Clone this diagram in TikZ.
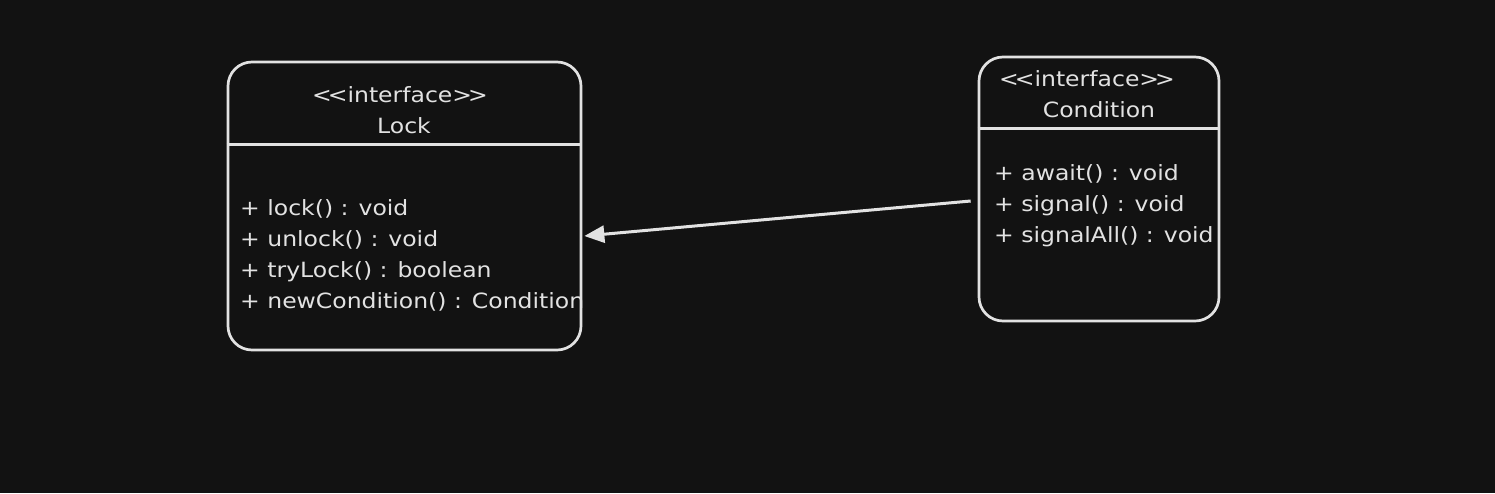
\documentclass[tikz,border=0pt]{standalone}
\usepackage{fontspec}
\setmainfont{DejaVu Sans}[FakeStretch=1.12,Ligatures=NoCommon]
\usetikzlibrary{arrows.meta,calc}
\definecolor{bg}{HTML}{121212}
\definecolor{ink}{HTML}{E2E2E2}
\newcommand{\stereo}{<\kern-4pt<interface>\kern-4pt>}
\begin{document}
\begin{tikzpicture}[x=1pt,y=-1pt,
  umlbox/.style={draw=ink,line width=2.7pt,rounded corners=24pt,inner sep=0pt},
  sep/.style={draw=ink,line width=2.7pt},
  txt/.style={text=ink,font=\fontsize{21}{25}\selectfont,inner sep=0pt,anchor=base west},
  ttl/.style={text=ink,font=\fontsize{21}{25}\selectfont,inner sep=0pt,anchor=base},
  conn/.style={draw=ink,line width=3pt,-{Triangle[length=20pt,width=17pt]}}]
\fill[bg] (0,0) rectangle (1495,493);
\useasboundingbox (0,0) rectangle (1495,493);
% Lock box
\node[umlbox,minimum width=353pt,minimum height=288pt] (lock) at (404.5,206) {};
\draw[sep] ($(lock.north west)+(0,84)$) coordinate (ls1) -- ($(lock.north east)+(0,84)$) coordinate (ls2);
\node[ttl] (lt1) at (400,102) {\stereo};
\node[ttl] (lt2) at (404,133) {Lock};
\node[txt] (lm1) at (240,215) {+ lock() : void};
\node[txt] (lm2) at (240,246) {+ unlock() : void};
\node[txt] (lm3) at (240,277) {+ tryLock() : boolean};
\node[txt] (lm4) at (240,308) {+ newCondition() : Condition};
% Condition box
\node[umlbox,minimum width=240pt,minimum height=264pt] (cond) at (1099,189) {};
\draw[sep] ($(cond.north west)+(0,73)$) coordinate (cs1) -- ($(cond.north east)+(0,73)$) coordinate (cs2);
\node[ttl] (ct1) at (1087,86) {\stereo};
\node[ttl] (ct2) at (1099,117) {Condition};
\node[txt] (cm1) at (994,180) {+ await() : void};
\node[txt] (cm2) at (994,211) {+ signal() : void};
\node[txt] (cm3) at (994,242) {+ signalAll() : void};
% connector
\coordinate (a1) at ($(cond.west)+(-7,12)$);
\coordinate (a2) at ($(lock.east)+(2,30)$);
\draw[conn] (a1) -- (a2);
\end{tikzpicture}
\end{document}
